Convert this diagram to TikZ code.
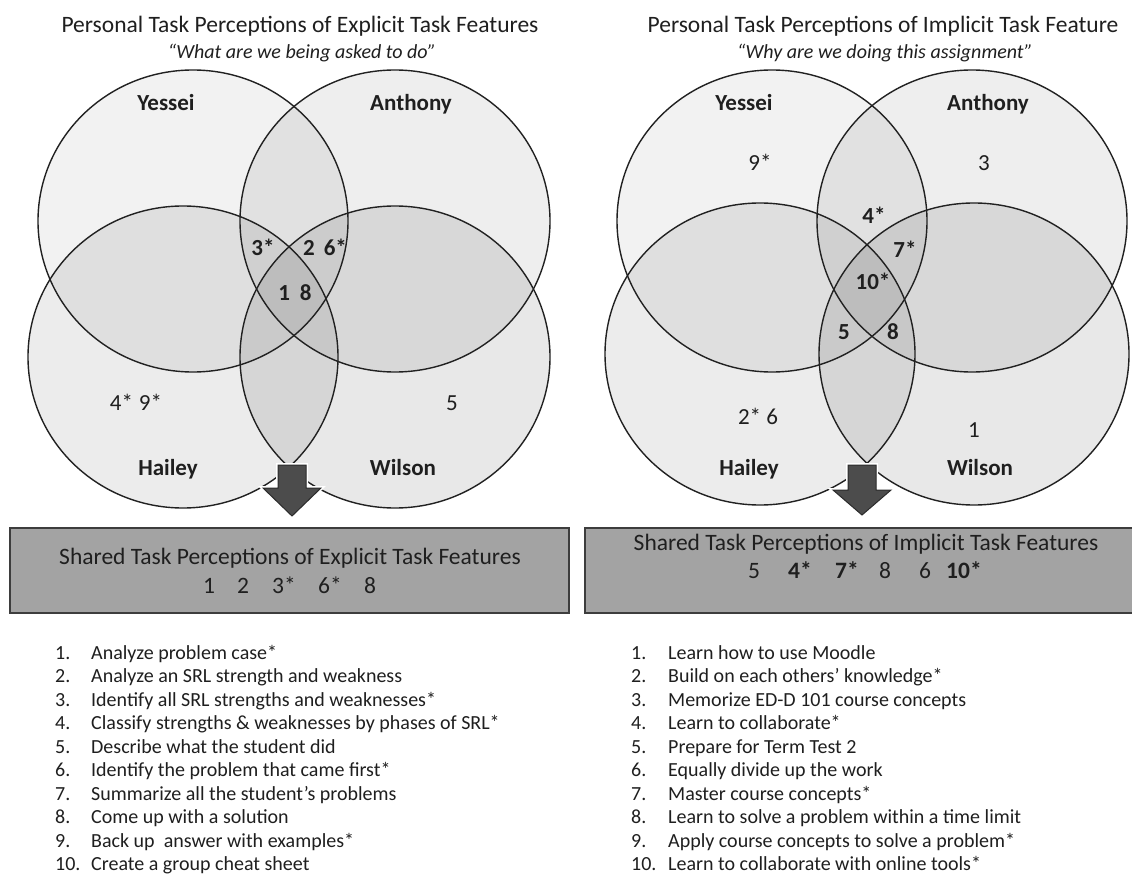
\documentclass[tikz,border=0pt]{standalone}
\usepackage{fontspec}
\setmainfont{Carlito}
\definecolor{ink}{gray}{0.12}
\definecolor{ring}{gray}{0.13}
\definecolor{boxfill}{gray}{0.64}
\definecolor{boxline}{gray}{0.24}
\definecolor{arrowfill}{gray}{0.30}
\definecolor{arrowline}{gray}{0.17}
\begin{document}
\begin{tikzpicture}[x=1pt,y=-1pt,
  ttl/.style={font=\fontsize{23.5}{28}\selectfont, text=ink, anchor=base, inner sep=0pt},
  subttl/.style={font=\fontsize{20}{24}\selectfont\itshape, text=ink, anchor=base, inner sep=0pt},
  who/.style={font=\fontsize{23}{28}\selectfont\bfseries, text=ink, anchor=base, inner sep=0pt},
  numb/.style={font=\fontsize{23}{28}\selectfont\bfseries, text=ink, anchor=base, inner sep=0pt},
  numr/.style={font=\fontsize{23}{28}\selectfont, text=ink, anchor=base, inner sep=0pt},
  sharedbox/.style={draw=boxline, fill=boxfill, line width=2pt, inner sep=0pt},
  sharedtxt/.style={font=\fontsize{23.5}{28}\selectfont, text=ink, anchor=base, inner sep=0pt},
  sharedbold/.style={sharedtxt, font=\fontsize{23.5}{28}\selectfont\bfseries},
  item/.style={font=\fontsize{20}{24}\selectfont, text=ink, anchor=base west, inner sep=0pt},
  ringline/.style={draw=ring, line width=1.4pt},
  blockarrow/.style={fill=arrowfill, draw=arrowline, line width=1pt, line join=miter},
  halo/.style={draw=white, line width=4pt, line join=miter},
]
\useasboundingbox (0,0) rectangle (1132,877);
\clip (0,0) rectangle (1132,877);
\fill[white] (0,0) rectangle (1132,877);

% ---------------- left panel: explicit task features ----------------
\node[ttl] (titleL) at (300,32.5) {Personal Task Perceptions of Explicit Task Features};
\node[subttl] (subL) at (302,58.5) {``What are we being asked to do''};

\fill[black, fill opacity=.05]  (193,221) ellipse [x radius=155pt, y radius=151pt];
\fill[black, fill opacity=.065] (395,221) ellipse [x radius=155pt, y radius=151pt];
\fill[black, fill opacity=.075] (183,357) ellipse [x radius=155pt, y radius=151pt];
\fill[black, fill opacity=.09]  (395,357) ellipse [x radius=155pt, y radius=151pt];
\draw[ringline] (193,221) ellipse [x radius=155pt, y radius=151pt];
\draw[ringline] (395,221) ellipse [x radius=155pt, y radius=151pt];
\draw[ringline] (183,357) ellipse [x radius=155pt, y radius=151pt];
\draw[ringline] (395,357) ellipse [x radius=155pt, y radius=151pt];

\node[who] (yesL) at (166,110.4) {Yessei};
\node[who] (antL) at (411,110.4) {Anthony};
\node[who] (haiL) at (168,475.4) {Hailey};
\node[who] (wilL) at (403,475.4) {Wilson};

\node[numb] (l3)  at (263,255.2) {3*};
\node[numb] (l26) at (325,255.2) {2\hspace{9pt}6*};
\node[numb] (l18) at (295,300.2) {1\hspace{10pt}8};
\node[numr] (l49) at (136,410.2) {4*\hspace{6pt}9*};
\node[numr] (l5)  at (452,410.2) {5};

\draw[halo] (278,465) -- (306,465) -- (306,488) -- (321,488) -- (292,516) -- (263,488) -- (278,488) -- cycle;
\draw[blockarrow] (278,465) -- (306,465) -- (306,488) -- (321,488) -- (292,516) -- (263,488) -- (278,488) -- cycle;

\node[sharedbox, minimum width=559pt, minimum height=85pt] (boxL) at (289.5,570.5) {};
\node[sharedtxt] (boxLt) at (290,564.6) {Shared Task Perceptions of Explicit Task Features};
\node[sharedtxt] (bl1) at (209,593.4) {1};
\node[sharedtxt] (bl2) at (243,593.4) {2};
\node[sharedtxt] (bl3) at (284,593.4) {3*};
\node[sharedtxt] (bl6) at (330,593.4) {6*};
\node[sharedtxt] (bl8) at (370,593.4) {8};

\foreach \t [count=\i] in {Analyze problem case*,
  Analyze an SRL strength and weakness,
  Identify all SRL strengths and weaknesses*,
  Classify strengths \& weaknesses by phases of SRL*,
  Describe what the student did,
  Identify the problem that came first*,
  Summarize all the student's problems,
  Come up with a solution,
  Back up~ answer with examples*,
  Create a group cheat sheet}
  \node[item] (L\i) at (55,{659+23.5*(\i-1)}) {\makebox[36pt][l]{\i.}\t};

% ---------------- right panel: implicit task features ----------------
\node[ttl] (titleR) at (883,32.5) {Personal Task Perceptions of Implicit Task Feature};
\node[subttl] (subR) at (885,58.5) {``Why are we doing this assignment''};

\fill[black, fill opacity=.05]  (772,221) ellipse [x radius=155pt, y radius=151pt];
\fill[black, fill opacity=.065] (972,221) ellipse [x radius=155pt, y radius=151pt];
\fill[black, fill opacity=.075] (760,354) ellipse [x radius=155pt, y radius=151pt];
\fill[black, fill opacity=.09]  (974,354) ellipse [x radius=155pt, y radius=151pt];
\draw[ringline] (772,221) ellipse [x radius=155pt, y radius=151pt];
\draw[ringline] (972,221) ellipse [x radius=155pt, y radius=151pt];
\draw[ringline] (760,354) ellipse [x radius=155pt, y radius=151pt];
\draw[ringline] (974,354) ellipse [x radius=155pt, y radius=151pt];

\node[who] (yesR) at (744,110.4) {Yessei};
\node[who] (antR) at (988,110.4) {Anthony};
\node[who] (haiR) at (749,475.4) {Hailey};
\node[who] (wilR) at (980,475.4) {Wilson};

\node[numr] (r9)  at (760,170.2) {9*};
\node[numr] (r3)  at (984,170.2) {3};
\node[numb] (r4)  at (874,223.2) {4*};
\node[numb] (r7)  at (905,257.2) {7*};
\node[numb] (r10) at (873,289.2) {10*};
\node[numb] (r5)  at (844,339.2) {5};
\node[numb] (r8)  at (893,339.2) {8};
\node[numr] (r26) at (758,424.2) {2* 6};
\node[numr] (r1)  at (974,437.2) {1};

\draw[halo] (848,465) -- (876,465) -- (876,490) -- (891,490) -- (862,515) -- (833,490) -- (848,490) -- cycle;
\draw[blockarrow] (848,465) -- (876,465) -- (876,490) -- (891,490) -- (862,515) -- (833,490) -- (848,490) -- cycle;

\node[sharedbox, minimum width=555pt, minimum height=85pt] (boxR) at (862.5,570.5) {};
\node[sharedtxt] (boxRt) at (866,550.6) {Shared Task Perceptions of Implicit Task Features};
\node[sharedtxt]  (br5)  at (754,578.4) {5};
\node[sharedbold] (br4)  at (800,578.4) {4*};
\node[sharedbold] (br7)  at (847,578.4) {7*};
\node[sharedtxt]  (br8)  at (885,578.4) {8};
\node[sharedtxt]  (br6)  at (925,578.4) {6};
\node[sharedbold] (br10) at (964,578.4) {10*};

\foreach \t [count=\i] in {Learn how to use Moodle,
  Build on each others' knowledge*,
  Memorize ED-D 101 course concepts,
  Learn to collaborate*,
  Prepare for Term Test 2,
  Equally divide up the work,
  Master course concepts*,
  Learn to solve a problem within a time limit,
  Apply course concepts to solve a problem*,
  Learn to collaborate with online tools*}
  \node[item] (R\i) at (631,{659+23.5*(\i-1)}) {\makebox[37pt][l]{\i.}\t};
\end{tikzpicture}
\end{document}
